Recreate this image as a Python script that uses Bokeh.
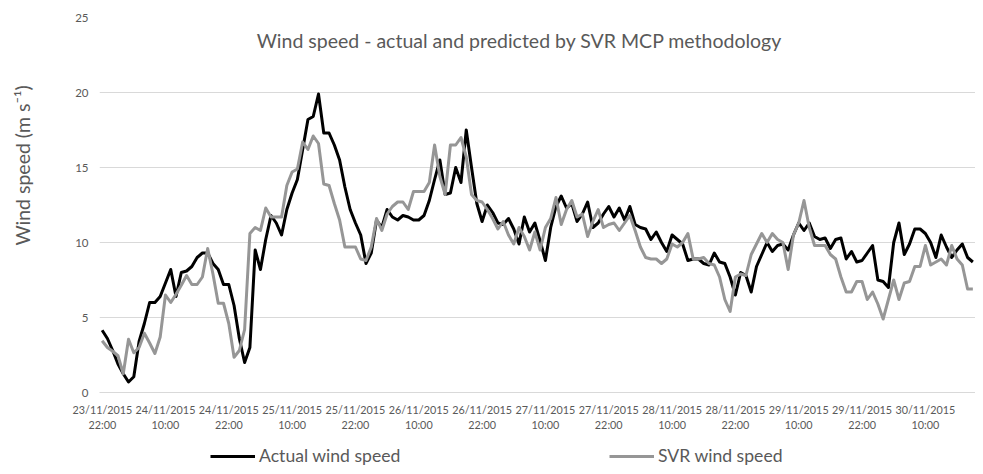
from bokeh.plotting import figure
from bokeh.layouts import column, row
from bokeh.models import (Range1d, FixedTicker, Label, Legend, LegendItem,
                          ColumnDataSource)
from bokeh.embed import file_html
from bokeh.resources import INLINE

# hourly observations starting 23/11/2015 22:00
actual = [4.15, 3.6, 2.8, 1.9, 1.25, 0.7, 1.05, 3.4, 4.6, 6.0,
          6.0, 6.4, 7.3, 8.2, 6.4, 8.0, 8.1, 8.4, 9.0, 9.3,
          9.3, 8.6, 8.2, 7.2, 7.2, 5.8, 3.6, 2.0, 3.0, 9.5,
          8.2, 10.2, 11.8, 11.3, 10.5, 12.2, 13.3, 14.2, 16.2, 18.2,
          18.4, 19.9, 17.3, 17.3, 16.5, 15.5, 13.7, 12.2, 11.3, 10.5,
          8.6, 9.3, 11.5, 11.0, 12.2, 11.7, 11.5, 11.8, 11.7, 11.5,
          11.5, 11.8, 12.8, 14.2, 15.5, 13.2, 13.3, 15.0, 14.0, 17.5,
          15.0, 12.6, 11.4, 12.5, 12.0, 11.3, 11.2, 11.6, 10.9, 9.9,
          11.7, 10.7, 11.3, 10.1, 8.8, 11.0, 12.4, 13.1, 12.3, 12.6,
          11.4, 11.9, 12.7, 11.0, 11.3, 11.9, 12.4, 11.7, 12.3, 11.5,
          12.4, 11.2, 11.0, 10.9, 10.2, 10.7, 10.0, 9.4, 10.5, 10.2,
          9.9, 8.8, 8.9, 8.9, 8.6, 8.5, 9.3, 8.7, 8.6, 7.7,
          6.5, 8.0, 7.8, 6.7, 8.4, 9.2, 10.0, 9.4, 9.8, 9.9,
          9.5, 10.5, 11.3, 10.8, 11.3, 10.4, 10.2, 10.3, 9.6, 10.2,
          10.3, 8.9, 9.4, 8.7, 8.8, 9.3, 9.8, 7.5, 7.4, 7.0,
          10.0, 11.3, 9.2, 9.9, 10.9, 10.9, 10.6, 10.0, 9.0, 10.5,
          9.7, 9.0, 9.5, 9.9, 9.0, 8.7]

svr = [3.45, 3.0, 2.75, 2.45, 1.25, 3.55, 2.65, 3.0, 3.95, 3.3,
       2.6, 3.7, 6.5, 6.0, 6.55, 7.15, 7.8, 7.2, 7.2, 7.7,
       9.6, 7.9, 5.95, 5.95, 4.6, 2.35, 2.8, 4.2, 10.6, 11.0,
       10.8, 12.3, 11.7, 11.7, 11.7, 13.8, 14.7, 14.9, 16.7, 16.2,
       17.1, 16.6, 13.9, 13.8, 12.6, 11.5, 9.7, 9.7, 9.7, 8.9,
       8.8, 9.7, 11.6, 10.8, 11.9, 12.4, 12.7, 12.7, 12.2, 13.4,
       13.4, 13.4, 14.0, 16.5, 14.4, 13.2, 16.5, 16.5, 17.0, 15.7,
       13.2, 12.8, 12.7, 12.2, 11.6, 10.9, 11.4, 10.5, 9.9, 11.0,
       10.4, 9.5, 10.7, 9.5, 11.0, 11.6, 13.0, 11.2, 12.2, 12.8,
       11.7, 11.9, 10.4, 11.4, 12.2, 11.0, 11.2, 11.3, 10.8, 11.3,
       11.8, 10.8, 9.7, 9.0, 8.9, 8.9, 8.6, 8.9, 9.9, 9.7,
       10.0, 10.6, 8.9, 8.9, 9.0, 8.6, 8.5, 7.7, 6.2, 5.4,
       7.7, 7.9, 7.8, 9.2, 9.9, 10.6, 10.0, 10.6, 10.2, 10.0,
       8.2, 10.5, 11.3, 12.8, 11.0, 9.8, 9.8, 9.8, 9.2, 8.9,
       7.7, 6.7, 6.7, 7.4, 7.4, 6.2, 6.7, 5.9, 4.9, 6.2,
       7.5, 6.2, 7.3, 7.4, 8.4, 8.4, 9.8, 8.5, 8.7, 8.9,
       8.5, 9.8, 8.9, 8.5, 6.9, 6.9]

tick_labels = ["23/11/2015\n22:00", "24/11/2015\n10:00", "24/11/2015\n22:00",
               "25/11/2015\n10:00", "25/11/2015\n22:00", "26/11/2015\n10:00",
               "26/11/2015\n22:00", "27/11/2015\n10:00", "27/11/2015\n22:00",
               "28/11/2015\n10:00", "28/11/2015\n22:00", "29/11/2015\n10:00",
               "29/11/2015\n22:00", "30/11/2015\n10:00"]
label_step = 12  # hours between category labels

y_ticks = [0, 5, 10, 15, 20, 25]
series_names = ["Actual wind speed", "SVR wind speed"]
chart_title = "Wind speed - actual and predicted by SVR MCP methodology"
y_title = "Wind speed (m s\u207b\u00b9)"

hours = list(range(len(actual)))
src = ColumnDataSource(data=dict(h=hours, actual=actual, svr=svr))

TXT = "#595959"
GRID = "#d9d9d9"
FONT = "Lato"
C_ACT = "black"
C_SVR = "#969696"

LEFT_W = 72      # strip holding the vertical axis title
MAIN_W = 975 - LEFT_W
TOP, BOTTOM, MAIN_H = 17, 48, 440

# ---- main chart
p = figure(width=MAIN_W, height=MAIN_H, output_backend="svg",
           toolbar_location=None,
           x_range=Range1d(-0.5, len(actual) - 0.5), y_range=Range1d(0, 25),
           min_border_left=24, min_border_right=0, min_border_top=TOP,
           min_border_bottom=BOTTOM)
p.outline_line_color = None
p.background_fill_color = "white"

ticks = [i * label_step for i in range(len(tick_labels))]
p.xaxis.ticker = FixedTicker(ticks=ticks)
p.xaxis.major_label_overrides = {t: lab for t, lab in zip(ticks, tick_labels)}
p.yaxis.ticker = FixedTicker(ticks=y_ticks)

for ax in (p.xaxis, p.yaxis):
    ax.major_tick_line_color = None
    ax.minor_tick_line_color = None
    ax.major_tick_out = 0
    ax.major_tick_in = 0
    ax.major_label_text_color = TXT
    ax.major_label_text_font = FONT
p.xaxis.major_label_text_font_size = "10.8px"
p.yaxis.major_label_text_font_size = "11.5px"
p.xaxis.axis_line_color = GRID
p.yaxis.axis_line_color = None
p.xaxis.major_label_standoff = 10
p.yaxis.major_label_standoff = 11

p.xgrid.grid_line_color = None
p.ygrid.grid_line_color = GRID
p.ygrid.grid_line_width = 1

p.line("h", "actual", source=src, line_color=C_ACT, line_width=3,
       line_join="round")
p.line("h", "svr", source=src, line_color=C_SVR, line_width=3,
       line_join="round")

p.add_layout(Label(x=420, y=352, x_units="screen", y_units="screen",
                   text=chart_title, text_align="center",
                   text_baseline="middle", text_color=TXT, text_font=FONT,
                   text_font_size="19.5px"))

# ---- strip for the vertical axis title
yl = figure(width=LEFT_W, height=MAIN_H, output_backend="svg",
            toolbar_location=None, x_range=Range1d(0, 1), y_range=Range1d(0, 1),
            x_axis_location=None, y_axis_location=None,
            min_border_left=0, min_border_right=0, min_border_top=TOP,
            min_border_bottom=BOTTOM)
yl.outline_line_color = None
yl.xgrid.visible = False
yl.ygrid.visible = False
yl.add_layout(Label(x=22, y=227, x_units="screen", y_units="screen",
                    text=y_title, angle=1.5707963, text_align="center",
                    text_baseline="middle", text_color=TXT, text_font=FONT,
                    text_font_size="19.5px"))

# ---- legend strip below the chart (its series lie outside its own view)
lg = figure(width=MAIN_W, height=26, output_backend="svg",
            toolbar_location=None,
            x_range=Range1d(1000, 1001), y_range=Range1d(-100, -99),
            x_axis_location=None, y_axis_location=None,
            min_border_left=0, min_border_right=0, min_border_top=0,
            min_border_bottom=0)
lg.outline_line_color = None
lg.xgrid.visible = False
lg.ygrid.visible = False
ra = lg.line("h", "actual", source=src, line_color=C_ACT, line_width=3)
rs = lg.line("h", "svr", source=src, line_color=C_SVR, line_width=3)

common = dict(orientation="horizontal", padding=0, margin=0,
              border_line_color=None, background_fill_alpha=0,
              glyph_width=45, glyph_height=20, label_standoff=4,
              label_text_font=FONT, label_text_font_size="17.6px",
              label_text_color=TXT, label_height=20)
leg1 = Legend(items=[LegendItem(label=series_names[0], renderers=[ra])],
              location=(111, 0), **common)
leg2 = Legend(items=[LegendItem(label=series_names[1], renderers=[rs])],
              location=(510, 0), **common)
lg.add_layout(leg1)
lg.add_layout(leg2)

layout = row(yl, column(p, lg, spacing=0), spacing=0)
open("out.html", "w").write(file_html(layout, INLINE))
